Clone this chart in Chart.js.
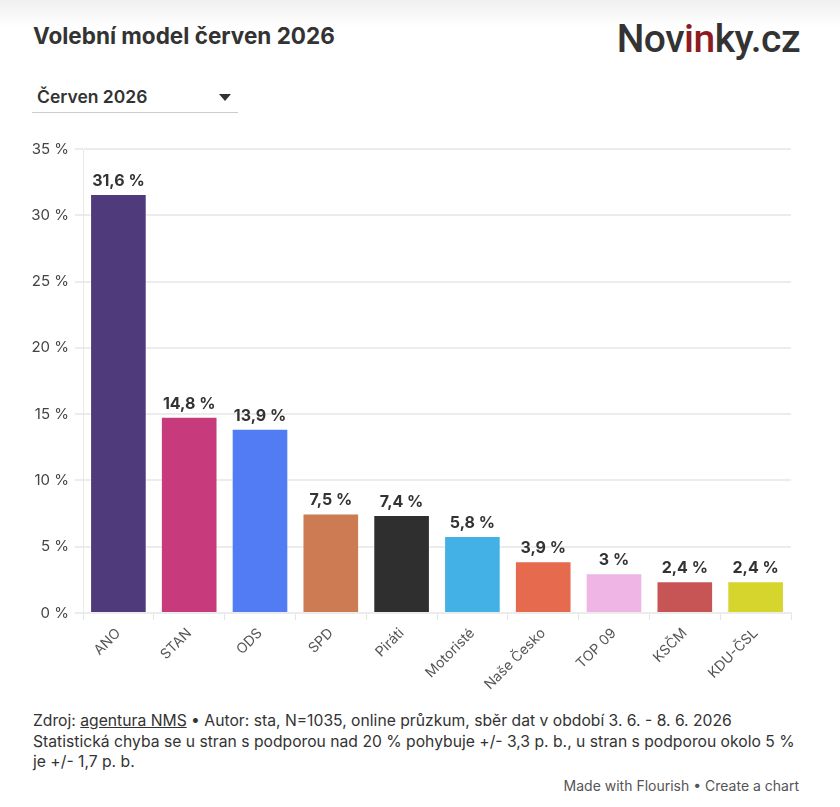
<!DOCTYPE html>
<html lang="cs">
<head>
<meta charset="utf-8">
<script src="https://cdn.jsdelivr.net/npm/chart.js@4/dist/chart.umd.min.js"></script>
<style>
    body {
        margin: 0;
        width: 840px;
        height: 807px;
        background: #fff;
        font-family: Inter, sans-serif;
        color: #333;
        position: relative;
        overflow: hidden;
    }
    .topshade {
        position: absolute; left: 0; top: 0; width: 840px; height: 28px;
        background: linear-gradient(#f0f0f0, #ffffff);
    }
    .title {
        position: absolute; left: 33px; top: 25px;
        font-size: 22.5px; line-height: 1; font-weight: 700; color: #333;
    }
    .logo {
        position: absolute; right: 40px; top: 16px;
        font-family: Roboto, sans-serif;
        font-size: 39px; font-weight: 500; color: #333; letter-spacing: -0.5px;
    }
    .logo span { color: #8f1b22; }
    .dropdown {
        position: absolute; left: 32px; top: 84px; width: 206px; height: 28px;
        border-bottom: 1px solid #ccc;
    }
    .dropdown .txt {
        position: absolute; left: 5px; top: 4px;
        font-size: 17.5px; line-height: 1; font-weight: 600; color: #333;
    }
    .dropdown .arrow {
        position: absolute; right: 7px; top: 10px;
        width: 0; height: 0;
        border-left: 6px solid transparent;
        border-right: 6px solid transparent;
        border-top: 7px solid #333;
    }
    #wrap {
        position: absolute; left: 20px; top: 131px; width: 780px; height: 570px;
    }
    .footer {
        position: absolute; left: 33px; top: 711px; width: 800px;
        font-size: 15.7px; line-height: 20.5px; color: #333;
    }
    .footer u { text-decoration: underline; }
    .made {
        position: absolute; right: 41px; top: 778px;
        font-size: 14px; line-height: 16px; color: #555;
    }
</style>
</head>
<body>
<div class="topshade"></div>
<div class="title">Volební model červen 2026</div>
<div class="logo">Nov<span>in</span>ky.cz</div>
<div class="dropdown"><div class="txt">Červen 2026</div><div class="arrow"></div></div>
<div id="wrap"><canvas id="graf"></canvas></div>
<div class="footer">Zdroj: <u>agentura NMS</u> • Autor: sta, N=1035, online průzkum, sběr dat v období 3. 6. - 8. 6. 2026<br>Statistická chyba se u stran s podporou nad 20 % pohybuje +/- 3,3 p. b., u stran s podporou okolo 5 %<br>je +/- 1,7 p. b.</div>
<div class="made">Made with Flourish • Create a chart</div>

<script>
var strany = ['ANO', 'STAN', 'ODS', 'SPD', 'Piráti', 'Motoristé', 'Naše Česko', 'TOP 09', 'KSČM', 'KDU-ČSL'];
var procenta = [31.6, 14.8, 13.9, 7.5, 7.4, 5.8, 3.9, 3, 2.4, 2.4];
var barvy = ['#4f3a7b', '#c73b7c', '#527cf4', '#cc7b52', '#2f2f2f', '#44b1e6', '#e66a4e', '#efb5e4', '#c85555', '#d6d52e'];
var osaY = [0, 5, 10, 15, 20, 25, 30, 35];

function formatCislo(v) {
    return String(v).replace('.', ',') + ' %';
}

// popisky nad sloupci
var popisky = {
    id: 'popisky',
    afterDatasetsDraw: function (chart) {
        var ctx = chart.ctx;
        var meta = chart.getDatasetMeta(0);
        ctx.save();
        ctx.font = 'bold 16px Inter, sans-serif';
        ctx.fillStyle = '#333';
        ctx.textAlign = 'center';
        ctx.textBaseline = 'bottom';
        meta.data.forEach(function (bar, i) {
            ctx.fillText(formatCislo(procenta[i]), bar.x, bar.y - 5);
        });
        ctx.restore();
    }
};

var graf = new Chart(document.getElementById('graf'), {
    type: 'bar',
    data: {
        labels: strany,
        datasets: [{
            data: procenta,
            backgroundColor: barvy,
            borderColor: 'rgba(255,255,255,0.35)',
            borderWidth: 1,
            barPercentage: 1,
            categoryPercentage: 0.8
        }]
    },
    options: {
        responsive: true,
        maintainAspectRatio: false,
        animation: false,
        layout: {
            padding: { top: 18, right: 9, left: 0, bottom: 0 }
        },
        plugins: {
            legend: { display: false },
            tooltip: { enabled: false }
        },
        scales: {
            y: {
                min: 0,
                max: 35,
                afterFit: function (scale) { scale.width = 63; },
                afterBuildTicks: function (scale) {
                    scale.ticks = osaY.map(function (v) { return { value: v }; });
                },
                border: { display: true, color: '#e8e8e8', width: 1 },
                grid: { color: '#ececec', lineWidth: 2, tickLength: 8 },
                ticks: {
                    padding: 6,
                    color: '#444',
                    font: { family: 'Inter, sans-serif', size: 15 },
                    callback: function (v) { return v + ' %'; }
                }
            },
            x: {
                afterFit: function (scale) { scale.height = 88; },
                border: { display: true, color: '#ececec', width: 2 },
                grid: { display: true, drawOnChartArea: false, color: '#e4e4e4', tickLength: 7 },
                ticks: {
                    maxRotation: 45,
                    minRotation: 45,
                    autoSkip: false,
                    padding: 5,
                    color: '#555',
                    font: { family: 'Inter, sans-serif', size: 14 }
                }
            }
        }
    },
    plugins: [popisky]
});
</script>
</body>
</html>
